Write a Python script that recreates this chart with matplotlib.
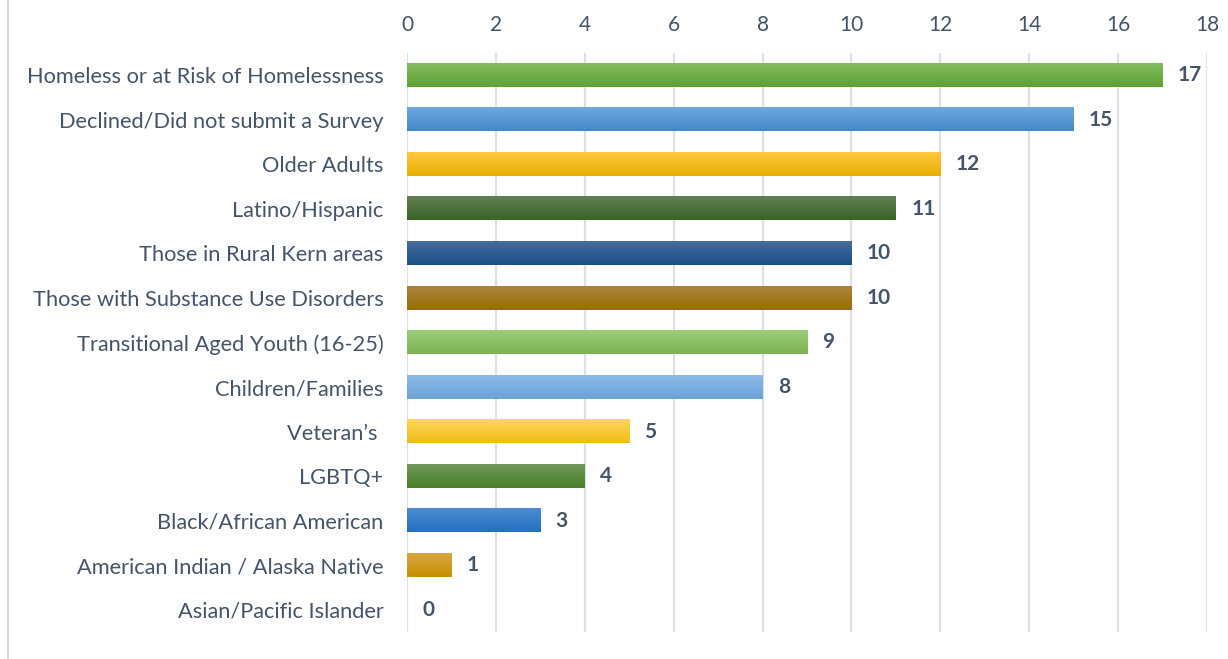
import matplotlib.pyplot as plt
import numpy as np
from matplotlib.colors import LinearSegmentedColormap
from matplotlib.lines import Line2D

categories = [
    "Homeless or at Risk of Homelessness",
    "Declined/Did not submit a Survey",
    "Older Adults",
    "Latino/Hispanic",
    "Those in Rural Kern areas",
    "Those with Substance Use Disorders",
    "Transitional Aged Youth (16-25)",
    "Children/Families",
    "Veteran\u2019s ",
    "LGBTQ+",
    "Black/African American",
    "American Indian / Alaska Native",
    "Asian/Pacific Islander",
]
counts = [17, 15, 12, 11, 10, 10, 9, 8, 5, 4, 3, 1, 0]
x_ticks = [0, 2, 4, 6, 8, 10, 12, 14, 16, 18]

# (top, bottom) colours of the vertical gradient in each bar
bar_colors = [
    ("#82BB5E", "#5FA232"),
    ("#6FA8DF", "#4287C8"),
    ("#FFC640", "#E8B000"),
    ("#637F55", "#3A6424"),
    ("#486C9C", "#175087"),
    ("#AB843F", "#976E00"),
    ("#9CCD7A", "#7DB353"),
    ("#8DBAE6", "#6CA2D8"),
    ("#FFD659", "#EDBD18"),
    ("#71985A", "#478029"),
    ("#4F8CD2", "#2270BE"),
    ("#D8A640", "#C69100"),
    ("#C0C0C0", "#A0A0A0"),
]

text_color = "#44546A"
grid_color = "#DCE1E8"
plt.rcParams["font.family"] = ["Lato", "DejaVu Sans"]

fig = plt.figure(figsize=(12.28, 6.59), dpi=100)
ax = fig.add_axes([0.3314, 0.041, 0.6515, 0.8786])

ypos = np.arange(len(categories))
bar_h = 0.52
bars = ax.barh(ypos, counts, height=bar_h, color="none", zorder=3)
grad = np.linspace(0, 1, 64).reshape(-1, 1)
for rect, (top, bottom) in zip(bars, bar_colors):
    w = rect.get_width()
    if w <= 0:
        continue
    y0 = rect.get_y()
    cmap = LinearSegmentedColormap.from_list("g", [top, bottom])
    ax.imshow(grad, cmap=cmap, aspect="auto", interpolation="bicubic",
              extent=(0, w, y0 + rect.get_height(), y0), zorder=3)

for y, v in zip(ypos, counts):
    ax.annotate(str(v), (v, y), xytext=(11, 0), textcoords="offset points",
                ha="left", va="center", fontsize=15, fontweight="bold",
                color=text_color)

ax.set_xlim(0, 18)
ax.set_ylim(len(categories) - 0.5, -0.5)
ax.set_xticks(x_ticks)
ax.set_yticks(ypos)
ax.set_yticklabels(categories)
ax.xaxis.tick_top()
ax.tick_params(axis="x", length=0, pad=13, labelsize=15, labelcolor=text_color)
ax.tick_params(axis="y", length=0, pad=17, labelsize=15.7, labelcolor=text_color)
ax.grid(axis="x", color=grid_color, linewidth=1.6, zorder=0)
ax.set_axisbelow(True)
for s in ax.spines.values():
    s.set_visible(False)

fig.add_artist(Line2D([0.0065, 0.0065], [0, 1], transform=fig.transFigure,
                      color="#D9D9D9", linewidth=1.5))

fig.savefig("out.png", dpi=100)
